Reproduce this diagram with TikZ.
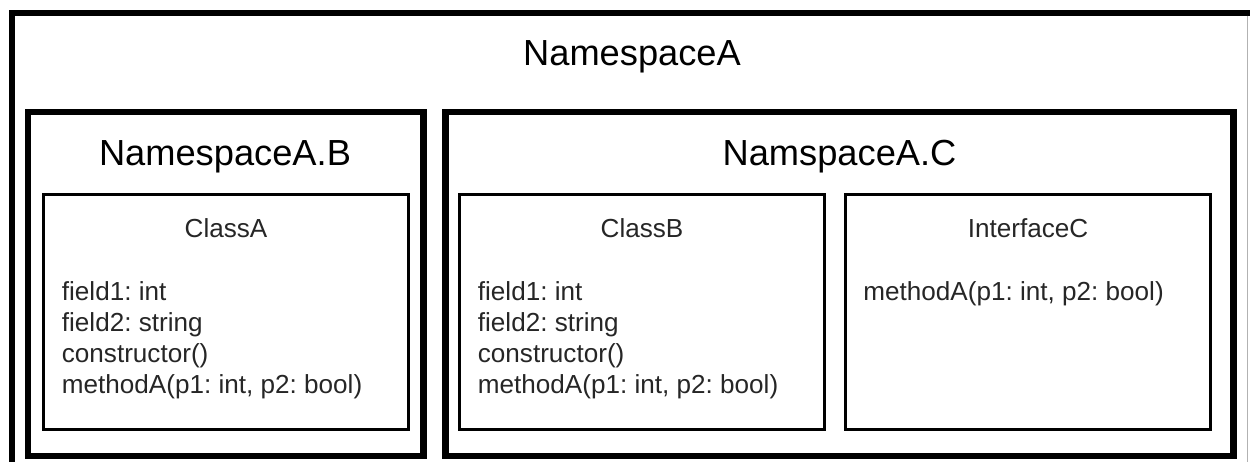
\documentclass[tikz,border=0pt]{standalone}
\usepackage{fontspec}
\setmainfont{Liberation Sans}
\usepackage{tikz}
\usetikzlibrary{shapes}
\frenchspacing

\tikzset{
  nsbox/.style={draw,line width=3.25bp,inner sep=0pt,minimum width=#1,minimum height=172bp},
  classbox/.style={draw,line width=1.5bp,inner sep=0pt,minimum width=182.5bp,minimum height=117.25bp},
  nstitle/.style={anchor=base,inner sep=0pt,font=\fontsize{18.2}{22}\selectfont},
  member/.style={anchor=base west,inner sep=0pt,text=black!85,font=\fontsize{13.1}{15.5}\selectfont},
  classtitle/.style={member,anchor=base},
}

\begin{document}
\begin{tikzpicture}
\useasboundingbox (0bp,0bp) rectangle (625bp,-231bp);

% outer namespace, cut off at the right and bottom
\draw [line width=3bp] (5.9bp,-231bp) -- (5.9bp,-6.25bp) -- (625bp,-6.25bp);
\draw [line width=0.5bp,gray!60] (623.5bp,-7.75bp) -- (623.5bp,-231bp);
\node (TA) at (316bp,-32.5bp)[nstitle] {NamespaceA};

\node (NSB) at (112.9bp,-142bp)[nsbox=197.85bp] {};
\node (NSC) at (419.65bp,-142bp)[nsbox=394bp] {};
\node (TB) at (112.5bp,-82.5bp)[nstitle] {NamespaceA.B};
\node (TC) at (419.75bp,-82.5bp)[nstitle] {NamspaceA.C};

\node (CA) at (112.9bp,-155.9bp)[classbox] {};
\node (CB) at (321.1bp,-155.9bp)[classbox] {};
\node (IC) at (513.8bp,-155.9bp)[classbox] {};

\node (CAt) at (113bp,-118.5bp)[classtitle] {ClassA};
\node (CBt) at (321bp,-118.5bp)[classtitle] {ClassB};
\node (ICt) at (514bp,-118.5bp)[classtitle] {InterfaceC};

\node (CA1) at (30.75bp,-150bp)[member] {field1: int};
\node (CA2) at (30.75bp,-165.5bp)[member] {field2: string};
\node (CA3) at (30.75bp,-181bp)[member] {constructor()};
\node (CA4) at (30.75bp,-196.5bp)[member] {methodA(p1: int, p2: bool)};

\node (CB1) at (238.75bp,-150bp)[member] {field1: int};
\node (CB2) at (238.75bp,-165.5bp)[member] {field2: string};
\node (CB3) at (238.75bp,-181bp)[member] {constructor()};
\node (CB4) at (238.75bp,-196.5bp)[member] {methodA(p1: int, p2: bool)};

\node (IC1) at (431.5bp,-150bp)[member] {methodA(p1: int, p2: bool)};
\end{tikzpicture}
\end{document}
